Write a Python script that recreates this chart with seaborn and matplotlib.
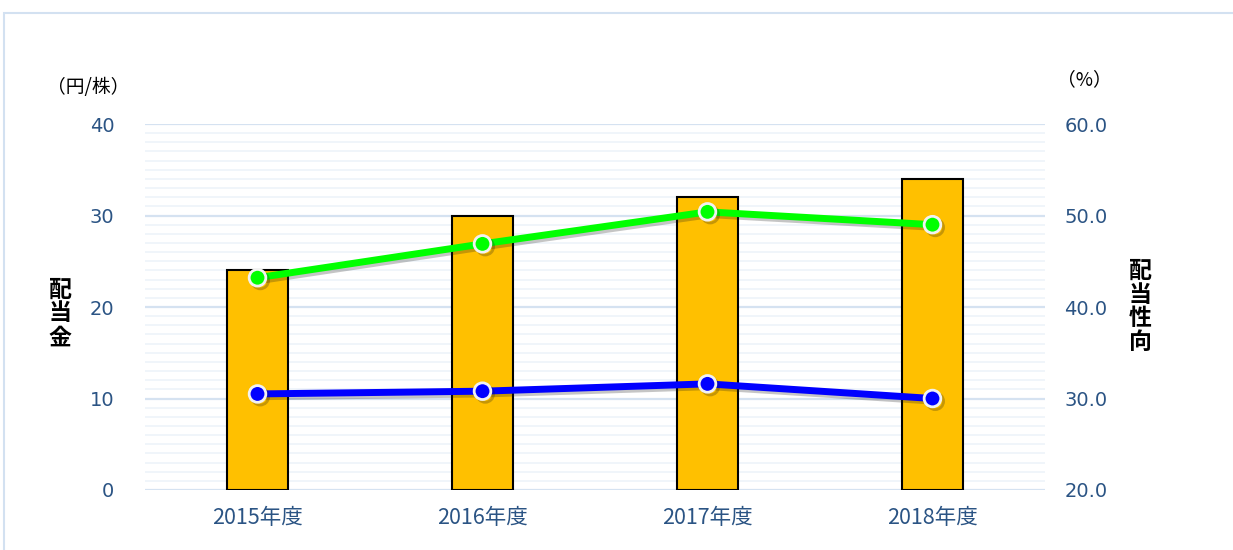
import matplotlib.pyplot as plt
import matplotlib.patheffects as pe
from matplotlib.patches import Rectangle
from matplotlib.ticker import MultipleLocator, FormatStrFormatter
import pandas as pd
import seaborn as sns

# data
years = ["2015年度", "2016年度", "2017年度", "2018年度"]
dividend = [24, 30, 32, 34]              # 配当金 (円/株), left axis
payout_green = [43.2, 46.9, 50.4, 49.0]  # 配当性向 (%), right axis
payout_blue = [30.5, 30.8, 31.6, 30.0]   # 配当性向 (%), right axis

sns.set_theme(style="white")
plt.rcParams['font.family'] = ['Noto Sans CJK JP', 'DejaVu Sans']

df = pd.DataFrame({"year": years, "dividend": dividend,
                   "green": payout_green, "blue": payout_blue})

tick_color = "#2B5484"

fig = plt.figure(figsize=(12.33, 5.5), dpi=100)

# light frame round the chart (cut off at right / bottom like the reference)
fig.add_artist(Rectangle((0.003, -0.1), 1.2, 1.076, transform=fig.transFigure,
                         fill=False, edgecolor="#D3E1F1", linewidth=1.5))

ax = fig.add_axes([0.1176, 0.1091, 0.7299, 0.6654])
sns.barplot(data=df, x="year", y="dividend", color="#FFC000", saturation=1,
            edgecolor="black", linewidth=1.5, width=0.27, ax=ax)

ax.set_xlim(-0.5, 3.5)
ax.set_ylim(0, 40)
ax.yaxis.set_major_locator(MultipleLocator(10))
ax.yaxis.set_minor_locator(MultipleLocator(1))
ax.set_axisbelow(True)
ax.grid(which="major", axis="y", color="#D5E2F1", linewidth=1.6)
ax.grid(which="minor", axis="y", color="#EFF4FA", linewidth=1.3)
ax.grid(axis="x", visible=False)
for s in ax.spines.values():
    s.set_visible(False)
ax.tick_params(axis="y", which="both", length=0, pad=22, labelsize=14,
               labelcolor=tick_color)
ax.tick_params(axis="x", length=0, pad=12, labelsize=15.5, labelcolor=tick_color)
for t in ax.get_yticklabels():
    t.set_fontfamily(["DejaVu Sans"])
ax.set_xlabel("")
ax.set_ylabel("")

ax2 = ax.twinx()
shadow = [pe.SimpleLineShadow(offset=(2, -2), alpha=0.25), pe.Normal()]
sns.pointplot(data=df, x="year", y="green", color="#00FF00", markers="o",
              errorbar=None, linewidth=5, markersize=12, markeredgecolor="#F2F2F2",
              markeredgewidth=2, path_effects=shadow, ax=ax2)
sns.pointplot(data=df, x="year", y="blue", color="#0000FF", markers="o",
              errorbar=None, linewidth=5, markersize=12, markeredgecolor="#F2F2F2",
              markeredgewidth=2, path_effects=shadow, ax=ax2)
ax2.set_xlim(-0.5, 3.5)
ax2.set_ylim(20, 60)
ax2.yaxis.set_major_locator(MultipleLocator(10))
ax2.yaxis.set_major_formatter(FormatStrFormatter("%.1f"))
ax2.grid(False)
for s in ax2.spines.values():
    s.set_visible(False)
ax2.tick_params(axis="y", length=0, pad=14, labelsize=14, labelcolor=tick_color)
for t in ax2.get_yticklabels():
    t.set_fontfamily(["DejaVu Sans"])
ax2.set_xlabel("")
ax2.set_ylabel("")

# axis titles and units
fig.text(60 / 1233, 1 - 314 / 550, "配\n当\n金", ha="center", va="center",
         fontsize=16.5, fontweight="bold", color="black", linespacing=1.05)
fig.text(1140 / 1233, 1 - 307 / 550, "配\n当\n性\n向", ha="center", va="center",
         fontsize=16.5, fontweight="bold", color="black", linespacing=1.05)
fig.text(88 / 1233, 1 - 87 / 550, "（円/株）", ha="center", va="center",
         fontsize=13.5, color="black")
fig.text(1084 / 1233, 1 - 80 / 550, "（%）", ha="center", va="center",
         fontsize=13.5, color="black")

fig.savefig("out.png", dpi=100)
